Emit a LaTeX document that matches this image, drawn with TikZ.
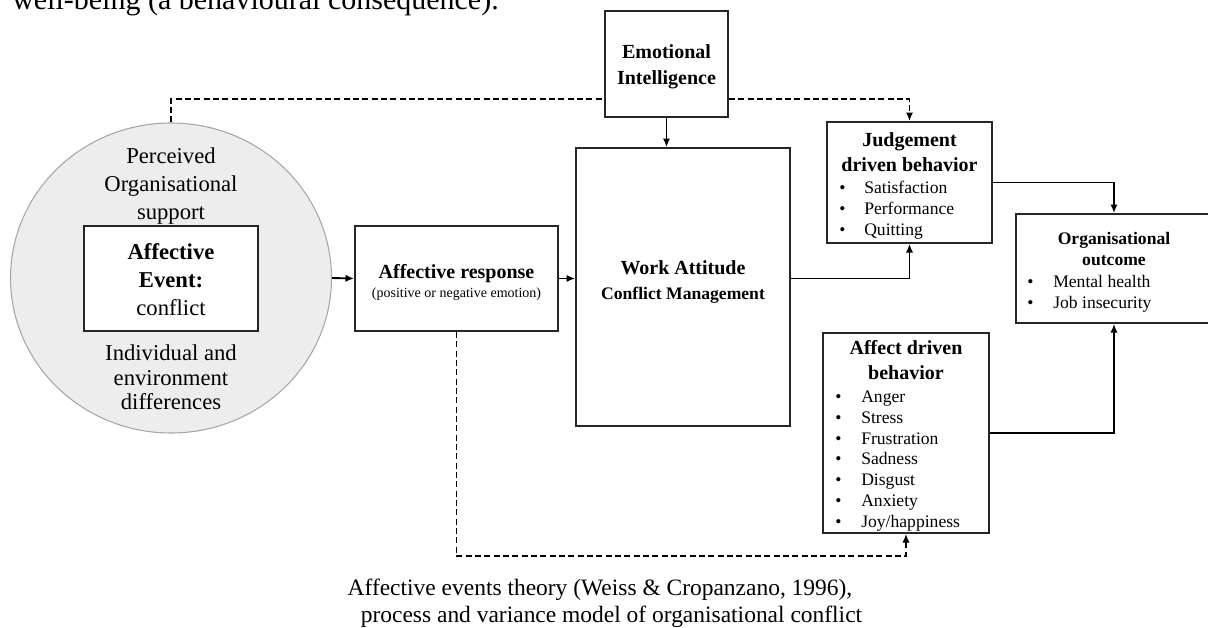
\documentclass[tikz,border=0pt]{standalone}
\usepackage{fontspec}
\setmainfont{Liberation Serif}
\usetikzlibrary{shapes.geometric,arrows.meta}
\begin{document}
\begin{tikzpicture}[x=0.75pt,y=-0.75pt,
  box/.style={draw=black!85,line width=1.25pt,fill=white,inner sep=0pt},
  conn/.style={line width=1.4pt,-{Latex[length=6.5pt,width=5.5pt]}},
  dconn/.style={conn,dash pattern=on 4.5pt off 2.5pt},
  dline/.style={line width=1.4pt,dash pattern=on 4.5pt off 2.5pt},
  txt/.style={inner sep=0pt,anchor=base},
  litem/.style={inner sep=0pt,anchor=base west,font=\fontsize{13.2}{16}\selectfont},
  bigr/.style={txt,font=\fontsize{17}{20}\selectfont},
  bigb/.style={txt,font=\fontsize{17}{20}\selectfont\bfseries},
  capt/.style={txt,font=\fontsize{17.6}{21}\selectfont},
  hd/.style={txt,font=\fontsize{15}{18}\selectfont\bfseries},
  hds/.style={txt,font=\fontsize{13.2}{16}\selectfont\bfseries}]
\useasboundingbox (0,0) rectangle (1208,628);

% top cut-off text
\node[inner sep=0pt,anchor=base west,font=\fontsize{22.5}{26}\selectfont] (toptxt) at (12,10) {well-being (a behavioural consequence).};

% circle
\node[ellipse,draw=black!35,fill=black!7,line width=0.8pt,inner sep=0pt,
      minimum width=321*0.75pt,minimum height=310*0.75pt] (circ) at (171,278) {};
\node[bigr] (p1) at (171,163.5) {Perceived};
\node[bigr] (p2) at (171,191.5) {Organisational};
\node[bigr] (p3) at (171,219.5) {support};
\node[bigr] (i1) at (171,360.5) {Individual and};
\node[bigr] (i2) at (171,385) {environment};
\node[bigr] (i3) at (171,409.5) {differences};

% affective event box
\node[box,minimum width=174*0.75pt,minimum height=105*0.75pt] (ev) at (171,278.5) {};
\node[bigb] (e1) at (171,259.5) {Affective};
\node[bigb] (e2) at (171,287.5) {Event:};
\node[bigr] (e3) at (171,315.5) {conflict};

% emotional intelligence
\node[box,minimum width=123*0.75pt,minimum height=106*0.75pt] (EI) at (666.5,64) {};
\node[hd] (ei1) at (666.5,58.6) {Emotional};
\node[hd] (ei2) at (666.5,84.6) {Intelligence};

% affective response
\node[box,minimum width=203*0.75pt,minimum height=105*0.75pt] (resp) at (456.5,278.5) {};
\node[hd] (r1) at (456.5,278.6) {Affective response};
\node[txt,font=\fontsize{10.5}{12}\selectfont] (r2) at (456.5,297) {(positive or negative emotion)};

% work attitude
\node[box,minimum width=214*0.75pt,minimum height=278*0.75pt] (work) at (683,287) {};
\node[hd] (w1) at (683,274.5) {Work Attitude};
\node[hds] (w2) at (683,299) {Conflict Management};

% judgement driven behavior
\node[box,minimum width=165*0.75pt,minimum height=121*0.75pt] (judg) at (909.5,182.5) {};
\node[hd] (j0) at (909.5,146.6) {Judgement};
\node[hd] (j00) at (909.5,171.6) {driven behavior};
\node[litem] (j1) at (839,193.5) {\makebox[18.75pt][l]{\textbullet}Satisfaction};
\node[litem] (j2) at (839,214.5) {\makebox[18.75pt][l]{\textbullet}Performance};
\node[litem] (j3) at (839,235.5) {\makebox[18.75pt][l]{\textbullet}Quitting};

% organisational outcome
\node[box,minimum width=196*0.75pt,minimum height=109*0.75pt] (org) at (1114,268.5) {};
\node[hds] (o0) at (1114,244) {Organisational};
\node[hds] (o00) at (1114,265) {outcome};
\node[litem] (o1) at (1027,287) {\makebox[19.5pt][l]{\textbullet}Mental health};
\node[litem] (o2) at (1027,308) {\makebox[19.5pt][l]{\textbullet}Job insecurity};

% affect driven behavior
\node[box,minimum width=166*0.75pt,minimum height=200*0.75pt] (aff) at (906,433) {};
\node[hd] (a0) at (906,354.6) {Affect driven};
\node[hd] (a00) at (906,379.6) {behavior};
\node[litem] (a1) at (835,402) {\makebox[19.5pt][l]{\textbullet}Anger};
\node[litem] (a2) at (835,423) {\makebox[19.5pt][l]{\textbullet}Stress};
\node[litem] (a3) at (835,444) {\makebox[19.5pt][l]{\textbullet}Frustration};
\node[litem] (a4) at (835,464.5) {\makebox[19.5pt][l]{\textbullet}Sadness};
\node[litem] (a5) at (835,485.5) {\makebox[19.5pt][l]{\textbullet}Disgust};
\node[litem] (a6) at (835,506) {\makebox[19.5pt][l]{\textbullet}Anxiety};
\node[litem] (a7) at (835,527) {\makebox[19.5pt][l]{\textbullet}Joy/happiness};

% caption
\node[capt] (c1) at (600,595) {Affective events theory (Weiss \& Cropanzano, 1996),};
\node[capt] (c2) at (611.5,622) {process and variance model of organisational conflict};

% helper coordinates
\coordinate (dtop) at (0,99);
\coordinate (dbot) at (0,556);

% connectors
\draw[conn] (circ.east) -- (resp.west);
\draw[conn] (resp.east) -- (resp.east -| work.west);
\draw[conn] (EI.south) -- (EI.south |- work.north);
\draw[dline] (circ.north) |- (EI.west |- dtop);
\draw[dconn] (EI.east |- dtop) -| (judg.north);
\draw[conn] (work.east |- resp.east) -| (judg.south);
\draw[conn] (judg.east) -| (org.north);
\draw[conn] (aff.east) -| (org.south);
\draw[dconn] (resp.south) -- (resp.south |- dbot) -| (aff.south);
\end{tikzpicture}
\end{document}
